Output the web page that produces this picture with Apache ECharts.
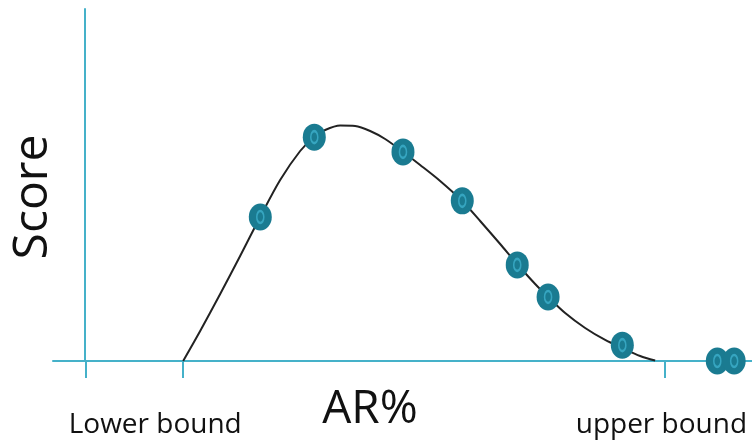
<!DOCTYPE html>
<html>
<head>
<meta charset="utf-8">
<script src="https://cdn.jsdelivr.net/npm/echarts@6/dist/echarts.min.js"></script>
<style>html,body{margin:0;padding:0;background:#fff}#c{width:752px;height:441px}</style>
</head>
<body>
<div id="c"></div>
<script>
// Curve samples: [AR%, score]
var curveX = [0, 3.53, 7.68, 11.82, 15.97, 20.12, 24.27, 27.17, 29.46, 32.57, 35.68, 38.79, 41.9, 45.64, 49.16, 53.31, 57.88, 61.61, 65.76, 69.28, 73.02, 75.72, 79.24, 83.39, 87.54, 91.07, 94.8, 97.91];
var curveY = [0, 8.52, 19.03, 29.83, 40.91, 51.42, 59.66, 63.64, 65.63, 66.9, 66.76, 65.34, 63.07, 59.38, 55.68, 51.14, 45.45, 39.77, 33.24, 27.56, 21.88, 18.18, 13.64, 9.38, 5.97, 3.69, 1.42, 0.14];
// Observed points
var pointX = [16.0, 27.2, 45.6, 57.9, 69.3, 75.7, 91.1, 110.8, 114.3];
var pointY = [40.9, 63.6, 59.4, 45.5, 27.3, 18.2, 4.5, 0, 0];
// Axis ticks and labels
var tickValues = [-20.3, 0, 100];
var labelValues = [-5.8, 99.2];
var labelTexts = ['Lower bound', 'upper bound'];
var xTitle = 'AR%';
var yTitle = 'Score';

var curve = curveX.map(function (x, i) { return [x, curveY[i]]; });
var points = pointX.map(function (x, i) { return [x, pointY[i]]; });

var axisColor = '#45b1c9';
var font = 'Open Sans';
var chart = echarts.init(document.getElementById('c'));
chart.setOption({
  animation: false,
  grid: { left: 53, right: 0, top: 9, bottom: 80 },
  xAxis: {
    type: 'value', min: -27, max: 118,
    axisLine: { show: true, onZero: false, lineStyle: { color: axisColor, width: 2 } },
    axisTick: { show: true, customValues: tickValues, length: 17, lineStyle: { color: axisColor, width: 2 } },
    axisLabel: {
      show: true, customValues: labelValues, margin: 50,
      color: '#111', fontFamily: font, fontSize: 28,
      formatter: function (v) { return v < 50 ? labelTexts[0] : labelTexts[1]; }
    },
    splitLine: { show: false }
  },
  yAxis: {
    type: 'value', min: 0, max: 100, offset: -32,
    axisLine: { show: true, onZero: false, lineStyle: { color: axisColor, width: 2 } },
    axisTick: { show: false }, axisLabel: { show: false }, splitLine: { show: false }
  },
  graphic: [
    { type: 'text', x: 370, y: 410, style: { text: xTitle, textAlign: 'center', textVerticalAlign: 'middle', fontFamily: font, fontSize: 46, fill: '#111' } },
    { type: 'text', rotation: Math.PI / 2, x: 33, y: 197, style: { text: yTitle, textAlign: 'center', textVerticalAlign: 'middle', fontFamily: font, fontSize: 48, fill: '#111' } }
  ],
  series: [
    { type: 'line', data: curve, smooth: 0.3, symbol: 'none', lineStyle: { color: '#222', width: 2 }, z: 2 },
    { type: 'scatter', data: points, symbol: 'circle', symbolSize: [23, 27], itemStyle: { color: '#1a7b91', opacity: 1 }, z: 3 },
    { type: 'scatter', data: points, symbol: 'circle', symbolSize: [7, 12], itemStyle: { color: 'rgba(0,0,0,0)', borderColor: '#3db0cc', borderWidth: 2 }, z: 4 }
  ]
});
</script>
</body>
</html>
